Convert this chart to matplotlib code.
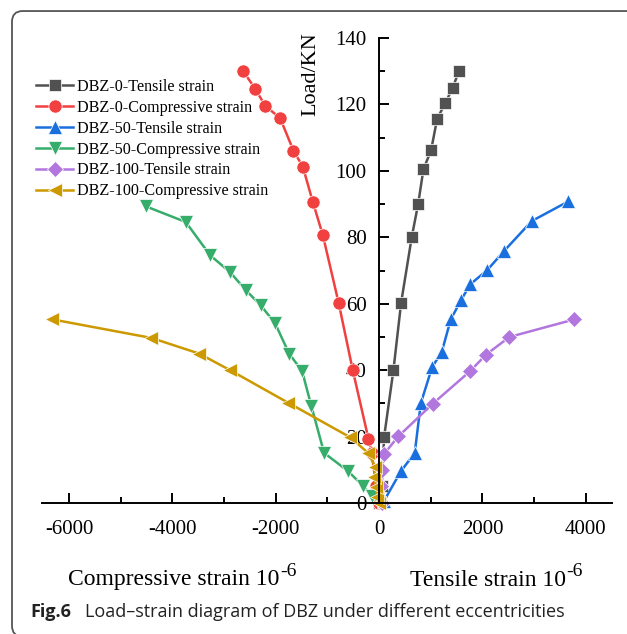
import matplotlib
matplotlib.use("Agg")
import matplotlib.pyplot as plt
from matplotlib.patches import FancyBboxPatch
from matplotlib.ticker import MultipleLocator

plt.rcParams['font.family'] = ['Liberation Serif', 'DejaVu Serif']
plt.rcParams['axes.unicode_minus'] = False

# ---- data (strain in 10^-6, load in kN) ----
strain_t0 = [0, 50, 97, 277, 426, 632, 755, 858, 1006, 1123, 1277, 1426, 1548]
load_t0 = [0, 5, 19.9, 40, 60.3, 80.1, 90.0, 100.5, 106.2, 115.7, 120.3, 125.1, 130.2]

strain_c0 = [0, -60, -141, -206, -510, -781, -1090, -1280, -1477, -1658, -1916, -2206, -2393, -2638]
load_c0 = [0, 5, 15, 19.3, 40, 60.1, 80.7, 90.5, 101.3, 106.1, 115.9, 119.6, 124.6, 130.2]

strain_t50 = [90, 419, 690, 806, 1026, 1213, 1387, 1587, 1761, 2097, 2419, 2955, 3660]
load_t50 = [0.5, 9.5, 15.1, 30, 40.9, 45.5, 55.3, 61.1, 65.8, 70.2, 75.9, 84.9, 90.8]

strain_c50 = [0, -142, -316, -594, -1065, -1313, -1490, -1742, -2013, -2290, -2581, -2884, -3271, -3742, -4510]
load_c50 = [0, 2.2, 5.2, 9.5, 15.1, 29.3, 39.7, 45.0, 54.1, 59.5, 64.1, 69.5, 74.6, 84.6, 89.3]

strain_t100 = [60, 40, 50, 103, 374, 1039, 1761, 2071, 2523, 3781]
load_t100 = [0, 5, 10, 14.9, 20.1, 29.9, 39.7, 44.7, 50.0, 55.3]

strain_c100 = [0, -33, -58, -97, -77, -207, -561, -1761, -2884, -3484, -4406, -6330]
load_c100 = [0, 1.9, 4.9, 7.9, 10.9, 15.0, 19.8, 30.2, 40.0, 45.0, 49.7, 55.3]

labels = ['DBZ-0-Tensile strain', 'DBZ-0-Compressive strain', 'DBZ-50-Tensile strain',
          'DBZ-50-Compressive strain', 'DBZ-100-Tensile strain', 'DBZ-100-Compressive strain']
colors = ['#515151', '#F14040', '#1A6FDF', '#37AD6B', '#B177DE', '#CC9900']
markers = ['s', 'o', '^', 'v', 'D', '<']
xticks = [-6000, -4000, -2000, 0, 2000, 4000]
yticks = [0, 20, 40, 60, 80, 100, 120, 140]

series = [(strain_t0, load_t0), (strain_c0, load_c0), (strain_t50, load_t50),
          (strain_c50, load_c50), (strain_t100, load_t100), (strain_c100, load_c100)]

fig = plt.figure(figsize=(6.27, 6.34), dpi=100)

# rounded frame of the journal figure
frame = FancyBboxPatch((12/627, -0.004), 1.1, 0.9826 + 0.004,
                       boxstyle="round,pad=0,rounding_size=0.017",
                       transform=fig.transFigure, fill=False,
                       edgecolor='#555555', linewidth=1.3, clip_on=False)
fig.patches.append(frame)

ax = fig.add_axes([0.0665, 0.2066, 0.909, 0.7334])
ax.set_xlim(-6530, 4500)
ax.set_ylim(0, 140)

msizes = [8, 9.5, 10, 10, 8.5, 10]
for (x, y), lab, c, m, ms in zip(series, labels, colors, markers, msizes):
    ax.plot(x, y, color=c, lw=1.8, marker=m, markersize=ms,
            markerfacecolor=c, markeredgecolor='white', markeredgewidth=0.5,
            label=lab, clip_on=False)

for s in ['top', 'right']:
    ax.spines[s].set_visible(False)
ax.spines['left'].set_position(('data', 0))
ax.spines['left'].set_linewidth(1.4)
ax.spines['bottom'].set_linewidth(1.4)

ax.set_xticks(xticks)
ax.set_xticklabels([str(v) for v in xticks])
ax.set_yticks(yticks)
ax.set_yticklabels([str(v) for v in yticks])
ax.xaxis.set_minor_locator(MultipleLocator(1000))
ax.yaxis.set_minor_locator(MultipleLocator(10))
ax.tick_params(axis='both', which='major', direction='in', length=7.5, width=1.4,
               labelsize=15)
ax.tick_params(axis='both', which='minor', direction='in', length=4, width=1.4)
ax.tick_params(axis='x', which='major', pad=12)
ax.tick_params(axis='y', which='major', pad=9)

fig.text(310.5/627, 1 - 74/634, 'Load/KN', rotation=90, fontsize=16,
         ha='center', va='center')

# axis titles with large superscripts
for xs, txt in [(68, 'Compressive strain 10'), (410, 'Tensile strain 10')]:
    t = fig.text(xs/627, 1 - 580/634, txt, fontsize=17, ha='left', va='center')
    fig.text(0, 0, '-6', fontsize=14, ha='left', va='center')  # placeholder removed below
    fig.texts.pop()
    ax.annotate('-6', xy=(1, 0.92), xycoords=t, xytext=(0.5, 0),
                textcoords='offset points', fontsize=14, ha='left', va='center',
                annotation_clip=False)

fig.text(30/627, 1 - 612/634, 'Fig.6', fontsize=13, fontweight='bold',
         family='Open Sans', ha='left', va='center', color='#222222')
fig.text(85/627, 1 - 612/634, 'Load\u2013strain diagram of DBZ under different eccentricities',
         fontsize=13, family='Open Sans', ha='left', va='center', color='#222222')

leg = ax.legend(loc='upper left', bbox_to_anchor=(36/627, 1 - 79/634),
                bbox_transform=fig.transFigure, frameon=False, fontsize=11.6,
                handlelength=2.3, handletextpad=0.25, labelspacing=0.3,
                borderpad=0, borderaxespad=0)

fig.savefig('out.png', dpi=100)
